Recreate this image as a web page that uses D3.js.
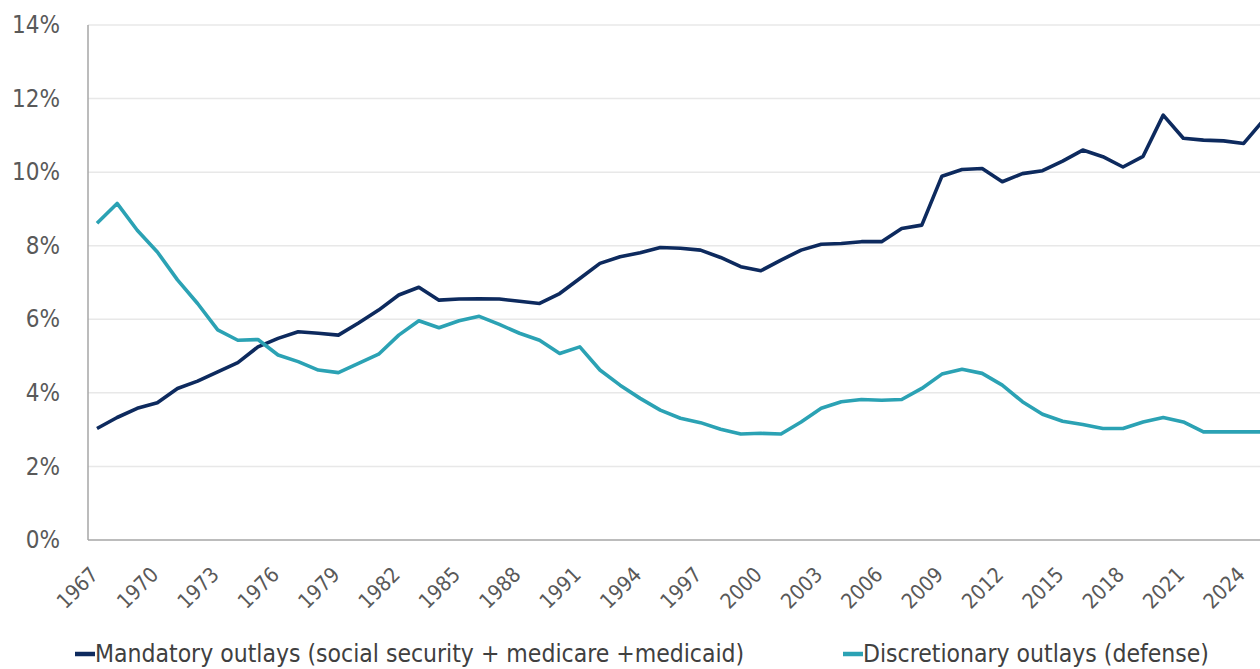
<!DOCTYPE html>
<html>
<head>
<meta charset="utf-8">
<script src="https://cdn.jsdelivr.net/npm/d3@7"></script>
<style>
  html, body { margin: 0; padding: 0; background: #ffffff; }
  svg { display: block; }
  text { font-family: "DejaVu Sans Condensed", "DejaVu Sans", sans-serif; font-stretch: condensed; }
</style>
</head>
<body>
<svg id="chart" width="1260" height="669"></svg>
<script>
const years = d3.range(1967, 2026);
const tickYears = d3.range(1967, 2025, 3);
const yTicks = [0, 2, 4, 6, 8, 10, 12, 14];

const mandatory = [
  3.03, 3.33, 3.58, 3.73, 4.12, 4.32, 4.57, 4.82, 5.25, 5.48,
  5.66, 5.62, 5.57, 5.90, 6.25, 6.66, 6.87, 6.52, 6.55, 6.56,
  6.55, 6.49, 6.43, 6.70, 7.11, 7.52, 7.70, 7.81, 7.95, 7.93,
  7.88, 7.68, 7.43, 7.32, 7.61, 7.88, 8.04, 8.06, 8.11, 8.11,
  8.47, 8.56, 9.89, 10.07, 10.10, 9.74, 9.96, 10.04, 10.30, 10.60,
  10.42, 10.14, 10.43, 11.55, 10.92, 10.87, 10.85, 10.78, 11.42
];
const discretionary = [
  8.61, 9.15, 8.42, 7.83, 7.07, 6.43, 5.71, 5.43, 5.45, 5.03,
  4.85, 4.62, 4.55, 4.80, 5.05, 5.57, 5.96, 5.77, 5.96, 6.08,
  5.86, 5.62, 5.43, 5.07, 5.25, 4.62, 4.21, 3.85, 3.53, 3.31,
  3.19, 3.01, 2.88, 2.90, 2.88, 3.21, 3.58, 3.76, 3.82, 3.80,
  3.82, 4.12, 4.51, 4.64, 4.53, 4.21, 3.76, 3.42, 3.23, 3.14,
  3.03, 3.03, 3.21, 3.33, 3.21, 2.94, 2.94, 2.94, 2.94
];

const seriesNames = [
  "Mandatory outlays (social security + medicare +medicaid)",
  "Discretionary outlays (defense)"
];
const seriesColors = ["#0d2a5e", "#2ba2b4"];

const FONT = '"DejaVu Sans Condensed", "DejaVu Sans", sans-serif';
const svg = d3.select("#chart");
const axisX0 = 88, plotTop = 25, plotBottom = 540;

const x = d3.scaleLinear().domain([1967, 2025]).range([97, 1263.8]);
const y = d3.scaleLinear().domain([0, 14]).range([plotBottom, plotTop]);

// gridlines
svg.append("g").selectAll("line").data(yTicks.filter(d => d > 0)).join("line")
  .attr("x1", axisX0).attr("x2", 1260)
  .attr("y1", d => y(d)).attr("y2", d => y(d))
  .attr("stroke", "#e8e8e8").attr("stroke-width", 1.5);

// y axis labels
const yAxis = d3.axisLeft(y).tickValues(yTicks).tickFormat(d => d + "%").tickSize(0).tickPadding(0);
const gy = svg.append("g").attr("transform", `translate(60,0)`).call(yAxis);
gy.select(".domain").remove();
gy.selectAll("text").attr("font-size", 24).attr("fill", "#595959").attr("font-family", FONT);

// axis lines
svg.append("line").attr("x1", axisX0).attr("x2", axisX0).attr("y1", plotTop).attr("y2", plotBottom)
  .attr("stroke", "#a6a6a6").attr("stroke-width", 1.5);
svg.append("line").attr("x1", axisX0).attr("x2", 1260).attr("y1", plotBottom).attr("y2", plotBottom)
  .attr("stroke", "#a6a6a6").attr("stroke-width", 1.5);

// x labels
const xAxis = d3.axisBottom(x).tickValues(tickYears).tickFormat(d => String(d)).tickSize(0).tickPadding(0);
const gx = svg.append("g").attr("transform", `translate(0,${plotBottom})`).call(xAxis);
gx.select(".domain").remove();
gx.selectAll("text")
  .attr("font-size", 21).attr("fill", "#595959").attr("font-family", FONT)
  .attr("text-anchor", "end")
  .attr("dy", 0).attr("y", 0)
  .attr("transform", "translate(2,36) rotate(-45)");

// lines
const line = d3.line().x((d, i) => x(years[i])).y(d => y(d));
[mandatory, discretionary].forEach((s, k) => {
  svg.append("path").datum(s).attr("d", line)
    .attr("fill", "none").attr("stroke", seriesColors[k])
    .attr("stroke-width", 3.6).attr("stroke-linejoin", "round").attr("stroke-linecap", "butt");
});

// legend
const legendX = [75, 843];
seriesNames.forEach((name, k) => {
  const g = svg.append("g").attr("transform", `translate(${legendX[k]},0)`);
  g.append("line").attr("x1", 0).attr("x2", 20).attr("y1", 654).attr("y2", 654)
    .attr("stroke", seriesColors[k]).attr("stroke-width", 4.5);
  g.append("text").attr("x", 20).attr("y", 662).attr("font-size", 24.5).attr("fill", "#404040")
    .text(name);
});
</script>
</body>
</html>
